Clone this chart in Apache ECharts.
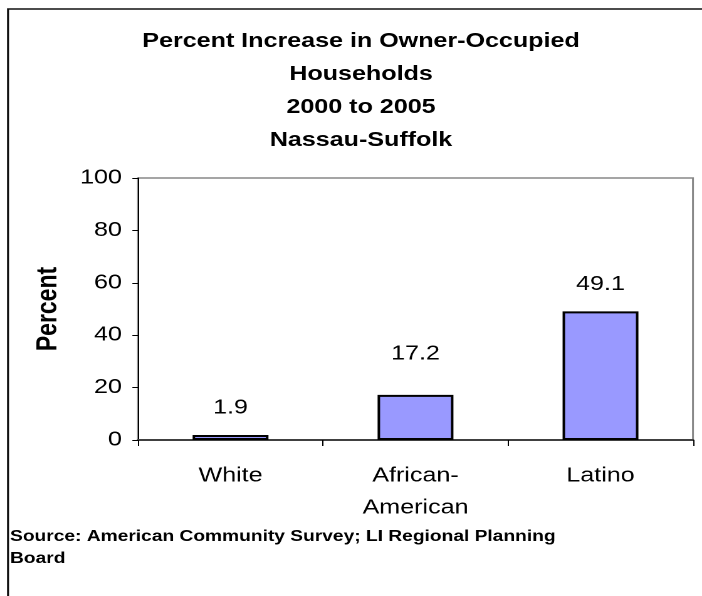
<!DOCTYPE html>
<html>
<head>
<meta charset="utf-8">
<script src="https://cdn.jsdelivr.net/npm/echarts@6/dist/echarts.min.js"></script>
<style>
html,body{margin:0;padding:0;background:#fff;overflow:hidden;}
#c{width:560px;height:596px;transform:scaleX(1.2536);transform-origin:0 0;}
</style>
</head>
<body>
<div id="c"></div>
<script>
const categories = ['White', 'African-\nAmerican', 'Latino'];
const values = [1.9, 17.2, 49.1];
const yMin = 0, yMax = 100, yInterval = 20;
const titleLines = ['Percent Increase in Owner-Occupied', 'Households', '2000 to 2005', 'Nassau-Suffolk'];
const yAxisName = 'Percent';
const sourceLines = ['Source: American Community Survey; LI Regional Planning', 'Board'];
const labelDistances = [17, 31, 17];

const FONT = '"Liberation Sans", Arial, sans-serif';
const chart = echarts.init(document.getElementById('c'), null, {devicePixelRatio: 2});
chart.setOption({
  animation: false,
  backgroundColor: '#fff',
  title: {
    text: titleLines.join('\n'),
    left: 288, top: 25, padding: 0,
    textAlign: 'center',
    textStyle: {fontFamily: FONT, fontSize: 20, fontWeight: 'bold', color: '#000', lineHeight: 33}
  },
  grid: {left: 110.1, right: 7.2, top: 178, bottom: 156, show: true, borderColor: '#888', borderWidth: 1.5, backgroundColor: 'transparent'},
  xAxis: {
    type: 'category', data: categories,
    axisLine: {lineStyle: {color: '#404040', width: 2}},
    axisTick: {show: true, length: 6, lineStyle: {color: '#000', width: 1}},
    axisLabel: {margin: 20, fontFamily: FONT, fontSize: 20, color: '#000', lineHeight: 32, interval: 0}
  },
  yAxis: {
    type: 'value', min: yMin, max: yMax, interval: yInterval,
    name: yAxisName, nameLocation: 'middle', nameGap: 60,
    nameTextStyle: {fontFamily: FONT, fontSize: 23, fontWeight: 'bold', color: '#000'},
    axisLine: {show: true, lineStyle: {color: '#000', width: 1}},
    axisTick: {show: true, length: 4.5, lineStyle: {color: '#000', width: 1}},
    axisLabel: {margin: 12.8, fontFamily: FONT, fontSize: 20, color: '#000'},
    splitLine: {show: false}
  },
  series: [{
    type: 'bar',
    data: values.map((v, i) => ({value: v, label: {distance: labelDistances[i]}})),
    barWidth: '41%',
    itemStyle: {color: '#9999ff', borderColor: '#000', borderWidth: 2},
    label: {show: true, position: 'top', distance: 17, fontFamily: FONT, fontSize: 20, color: '#000'}
  }],
  graphic: [
    {type: 'rect', shape: {x: 6.4, y: 9, width: 700, height: 700}, style: {fill: 'none', stroke: '#111', lineWidth: 1.6}, silent: true},
    {type: 'text', left: 8, top: 526, style: {text: sourceLines.join('\n'), fontFamily: FONT, fontSize: 15.3, fontWeight: 'bold', fill: '#000', lineHeight: 22}}
  ]
});
</script>
</body>
</html>
